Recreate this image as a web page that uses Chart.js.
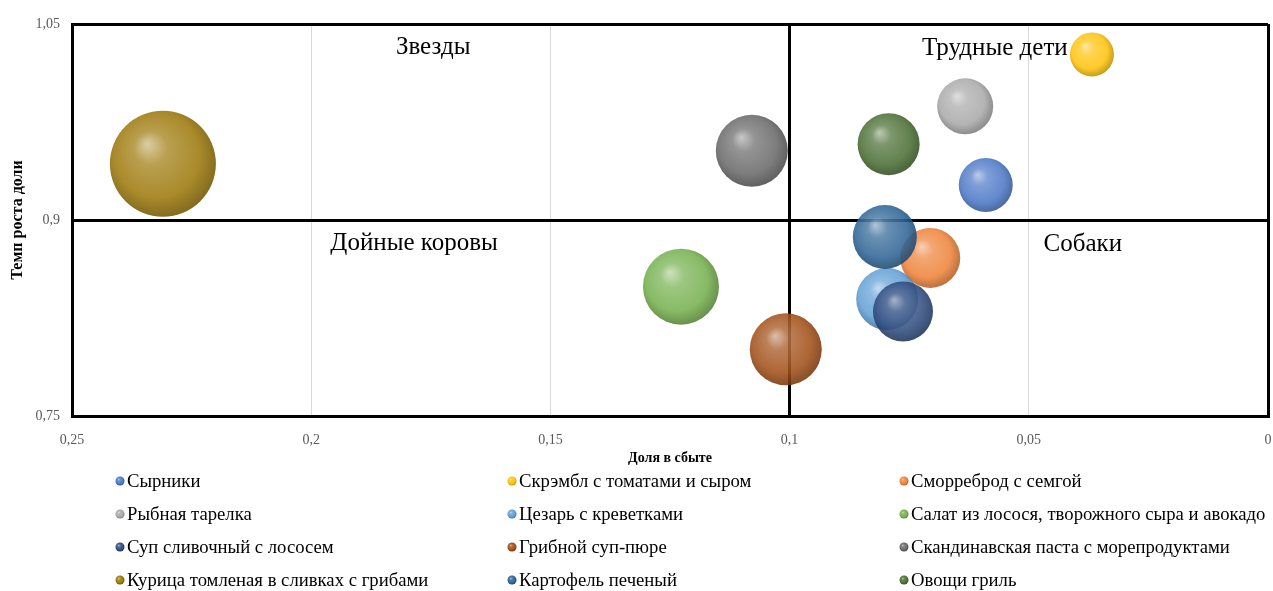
<!DOCTYPE html>
<html><head><meta charset="utf-8">
<script src="https://cdn.jsdelivr.net/npm/chart.js@4/dist/chart.umd.min.js"></script>
<style>html,body{margin:0;padding:0;background:#fff;}canvas{display:block;}</style>
</head><body>
<canvas id="c" width="1273" height="591"></canvas>
<script>
// ---- data ----
const dishes = [
  'Сырники',
  'Скрэмбл с томатами и сыром',
  'Сморреброд с семгой',
  'Рыбная тарелка',
  'Цезарь с креветками',
  'Салат из лосося, творожного сыра и авокадо',
  'Суп сливочный с лососем',
  'Грибной суп-пюре',
  'Скандинавская паста с морепродуктами',
  'Курица томленая в сливках с грибами',
  'Картофель печеный',
  'Овощи гриль'
];
const shareX  = [0.059, 0.0368, 0.0706, 0.0633, 0.0796, 0.1227, 0.0763, 0.1008, 0.1079, 0.231, 0.0801, 0.0793];
const growthY = [0.9268, 1.0267, 0.871, 0.987, 0.8395, 0.849, 0.830, 0.801, 0.953, 0.943, 0.887, 0.958];
const bubbleR = [27, 22, 30, 28, 31, 38, 30, 36, 36, 53, 32, 31];
const dishColors = ['#4472C4','#FFC000','#ED7D31','#A5A5A5','#5B9BD5','#70AD47','#264478','#9E480E','#636363','#997300','#255E91','#43682B'];

const xTickValues = [0.25, 0.2, 0.15, 0.1, 0.05, 0];
const xTickLabels = ['0,25', '0,2', '0,15', '0,1', '0,05', '0'];
const yTickValues = [0.75, 0.9, 1.05];
const yTickLabels = ['0,75', '0,9', '1,05'];

const quadrantNames = ['Звезды', 'Трудные дети', 'Дойные коровы', 'Собаки'];
const quadrantX = [0.1745, 0.0571, 0.1785, 0.0387];
const quadrantY = [1.032, 1.031, 0.882, 0.8813];

const splitX = 0.1;
const splitY = 0.9;

// ---- helpers ----
const SERIF = '"Liberation Serif", "Times New Roman", serif';
function hexRgb(h){ const n=parseInt(h.slice(1),16); return [(n>>16)&255,(n>>8)&255,n&255]; }
function mix(hex, target, t, a){
  const c=hexRgb(hex), d=hexRgb(target);
  const r=c.map((v,i)=>Math.round(v+(d[i]-v)*t));
  return `rgba(${r[0]},${r[1]},${r[2]},${a})`;
}
function sphere(g2d, cx, cy, r, hex, a){
  const g = g2d.createRadialGradient(cx-0.3*r, cy-0.38*r, 0, cx-0.05*r, cy-0.08*r, r*1.12);
  g.addColorStop(0, mix(hex,'#FFFFFF',0.6,a));
  g.addColorStop(0.28, mix(hex,'#FFFFFF',0.22,a));
  g.addColorStop(0.72, mix(hex,'#FFFFFF',0.05,a));
  g.addColorStop(1, mix(hex,'#000000',0.28,a));
  return g;
}
function near(a,b){ return Math.abs(a-b) < 1e-9; }
function labelFor(vals, labs, v){ for(let i=0;i<vals.length;i++){ if(near(vals[i],v)) return labs[i]; } return ''; }

const points = shareX.map((x,i)=>({x:x, y:growthY[i], r:bubbleR[i]}));

const quadrantPlugin = {
  id:'quadrants',
  beforeDatasetsDraw(chart){
    const {ctx, scales:{x, y}} = chart;
    ctx.save();
    ctx.font = '25px ' + SERIF;
    ctx.fillStyle = '#000';
    ctx.textAlign = 'center';
    ctx.textBaseline = 'middle';
    quadrantNames.forEach((t,i)=>{
      ctx.fillText(t, x.getPixelForValue(quadrantX[i]), y.getPixelForValue(quadrantY[i]));
    });
    ctx.restore();
  }
};

const legendPlugin = {
  id:'gridLegend',
  afterDraw(chart){
    const ctx = chart.ctx;
    ctx.save();
    ctx.font = '18.7px ' + SERIF;
    ctx.fillStyle = '#000';
    ctx.textAlign = 'left';
    ctx.textBaseline = 'middle';
    dishes.forEach((name,i)=>{
      const col = i % 3, row = Math.floor(i/3);
      const mx = 120 + col*392, my = 481 + row*33;
      ctx.beginPath();
      ctx.fillStyle = sphere(ctx, mx, my, 4.5, dishColors[i], 1);
      ctx.arc(mx, my, 4.5, 0, Math.PI*2);
      ctx.fill();
      ctx.fillStyle = '#000';
      ctx.fillText(name, mx + 7, my + 1);
    });
    ctx.restore();
  }
};

new Chart(document.getElementById('c'), {
  type:'bubble',
  data:{
    datasets:[{
      label:'Меню',
      data: points,
      borderWidth:0,
      backgroundColor(ctx){
        const i = ctx.dataIndex;
        const hex = dishColors[i] || '#888888';
        const ch = ctx.chart;
        const xs = ch.scales && ch.scales.x, ys = ch.scales && ch.scales.y;
        if (ctx.type !== 'data' || !xs || !ys) return hex;
        const cx = xs.getPixelForValue(ctx.raw.x), cy = ys.getPixelForValue(ctx.raw.y);
        if (!isFinite(cx) || !isFinite(cy)) return hex;
        return sphere(ch.ctx, cx, cy, ctx.raw.r, hex, 0.88);
      }
    }]
  },
  options:{
    responsive:false,
    animation:false,
    events:[],
    layout:{autoPadding:false, padding:{left:4, right:5, top:24, bottom:121}},
    plugins:{legend:{display:false}, tooltip:{enabled:false}},
    scales:{
      x:{
        type:'linear', reverse:true, min:0, max:0.25,
        afterBuildTicks(s){ s.ticks = xTickValues.map(v=>({value:v})); },
        afterFit(s){ s.height = 54; s.paddingRight = 0; s.paddingLeft = 0; },
        ticks:{ padding:2, color:'#595959', font:{family:SERIF, size:14},
          callback:(v)=>labelFor(xTickValues, xTickLabels, v), maxRotation:0 },
        grid:{ drawTicks:true, tickLength:14, tickColor:'rgba(0,0,0,0)',
          color:(c)=> (c.tick && (near(c.tick.value,splitX)||near(c.tick.value,0)||near(c.tick.value,0.25))) ? '#000' : '#D9D9D9',
          lineWidth:(c)=> (c.tick && (near(c.tick.value,splitX)||near(c.tick.value,0)||near(c.tick.value,0.25))) ? 3 : 1 },
        border:{display:true, color:'#000', width:3},
        title:{display:true, text:'Доля в сбыте', color:'#000', font:{family:SERIF, size:14, weight:'bold'}, padding:{top:0,bottom:3}}
      },
      y:{
        type:'linear', min:0.75, max:1.05,
        afterBuildTicks(s){ s.ticks = yTickValues.map(v=>({value:v})); },
        afterFit(s){ s.width = 68; },
        ticks:{ padding:12, color:'#595959', font:{family:SERIF, size:14},
          callback:(v)=>labelFor(yTickValues, yTickLabels, v) },
        grid:{ drawTicks:false, color:'#000', lineWidth:3 },
        border:{display:true, color:'#000', width:3},
        title:{display:true, text:'Темп роста доли', color:'#000', font:{family:SERIF, size:16, weight:'bold'}, padding:{top:4,bottom:4}}
      }
    }
  },
  plugins:[quadrantPlugin, legendPlugin]
});
</script>
</body></html>
